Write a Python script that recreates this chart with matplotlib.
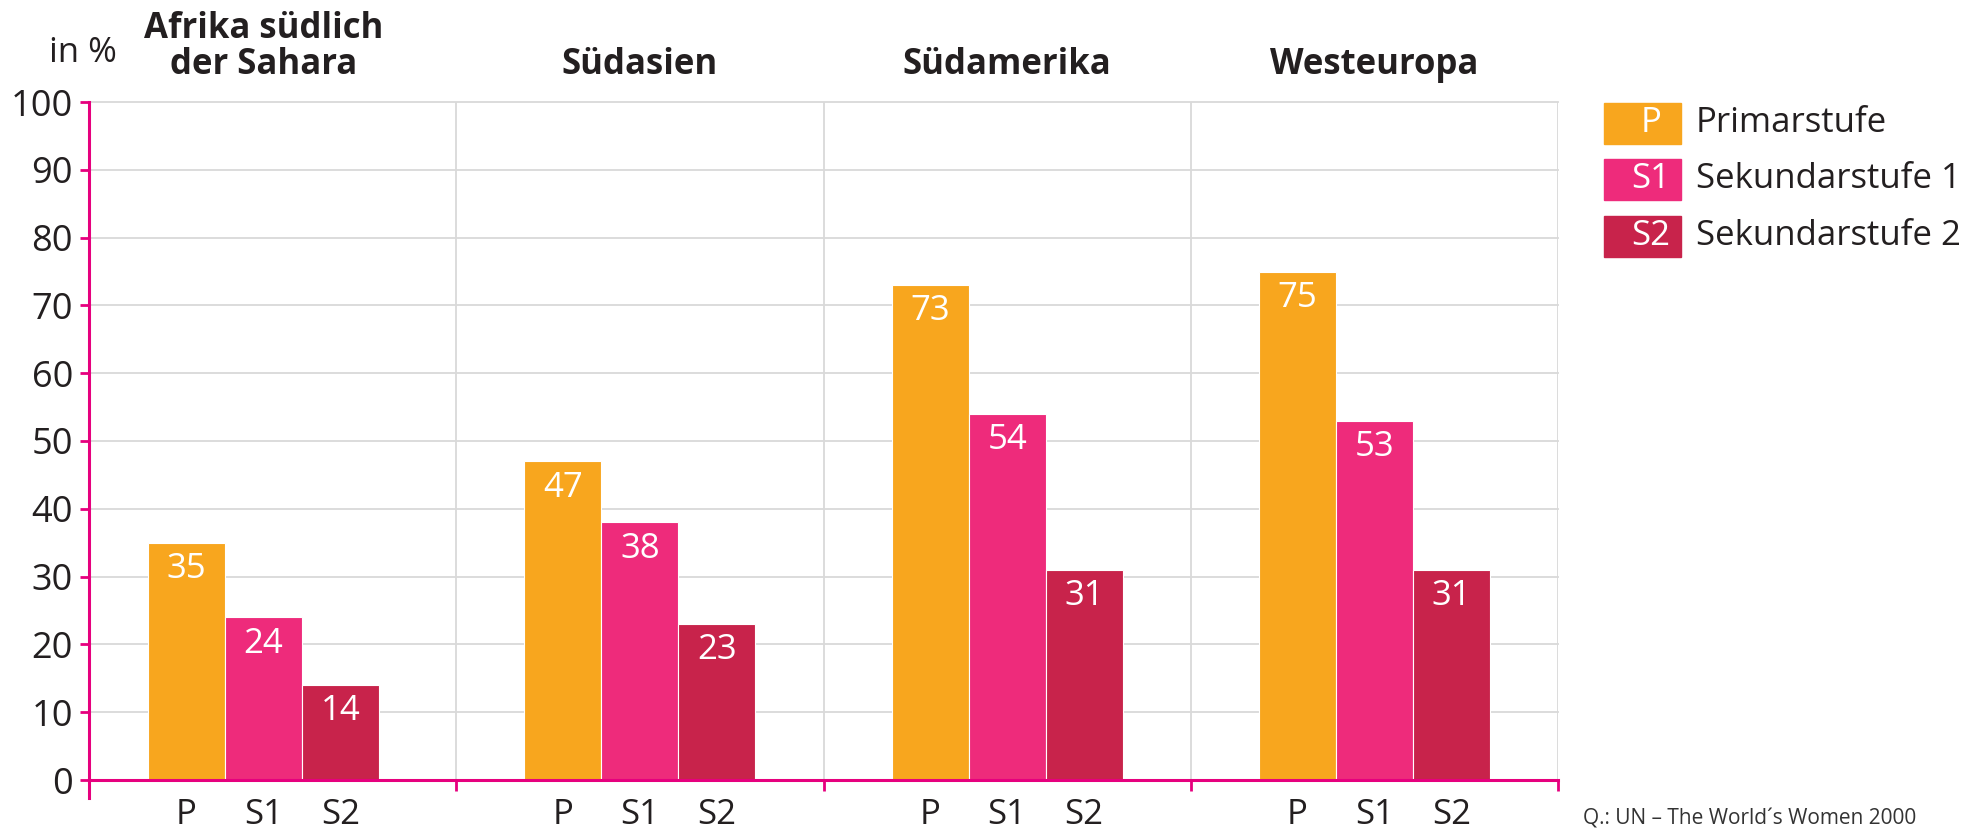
import numpy as np
import matplotlib
matplotlib.use("Agg")
import matplotlib.pyplot as plt
import matplotlib.patches as mpatches

plt.rcParams["font.family"] = ["Open Sans", "DejaVu Sans"]

# Daten
regionen = ["Afrika südlich\nder Sahara", "Südasien", "Südamerika", "Westeuropa"]
stufen_kurz = ["P", "S1", "S2"]
stufen_lang = ["Primarstufe", "Sekundarstufe 1", "Sekundarstufe 2"]
primar = [35, 47, 73, 75]
sek1 = [24, 38, 54, 53]
sek2 = [14, 23, 31, 31]
yticks = list(range(0, 101, 10))

FARBEN = ["#F8A61E", "#EE2B7B", "#C8234B"]
PINK = "#E6007E"
GRID = "#D9D9D9"
TEXT = "#231F20"

W, H = 1975, 832
fig = plt.figure(figsize=(W / 100, H / 100), dpi=100)

# Achse: links 89 px, rechts 1558 px, y=0 bei 780 px, y=100 bei 102 px
px_per_unit = (780 - 102) / 100
ymin = -18 / px_per_unit
bottom_px = 780 + 18
ax = fig.add_axes([89 / W, (H - bottom_px) / H, (1558 - 89) / W, (bottom_px - 102) / H])
ax.set_xlim(0, 4)
ax.set_ylim(ymin, 100)

werte = [primar, sek1, sek2]
bw = 77 / 367
centers = np.arange(len(regionen)) + 0.5
centers[0] -= 0.025  # Afrika-Gruppe leicht nach links versetzt

# Gitter
for y in yticks[1:]:
    ax.axhline(y, color=GRID, lw=1.3, zorder=0, clip_on=False)
ax.vlines([1, 2, 3, 4], 0, 100, color=GRID, lw=1.3, zorder=0)

for k, (vals, col) in enumerate(zip(werte, FARBEN)):
    xs = centers + (k - 1) * bw
    bars = ax.bar(xs, vals, width=bw, color=col, edgecolor="white", linewidth=0.8, zorder=2)
    for b, v in zip(bars, vals):
        ax.annotate(str(v), (b.get_x() + b.get_width() / 2, v), xytext=(0, -19),
                    textcoords="offset points", ha="center", va="center",
                    color="white", fontsize=25, zorder=3)

# Spines
for s in ["top", "right"]:
    ax.spines[s].set_visible(False)
ax.spines["left"].set_color(PINK)
ax.spines["left"].set_linewidth(2.2)
ax.spines["bottom"].set_color(PINK)
ax.spines["bottom"].set_linewidth(2.2)
ax.spines["bottom"].set_position(("data", 0))
ax.spines["bottom"].set_zorder(4)

ax.set_yticks(yticks)
ax.set_yticklabels([str(t) for t in yticks], fontsize=26, color=TEXT)
ax.tick_params(axis="y", colors=PINK, labelcolor=TEXT, length=6.5, width=2, pad=5)

# x: Beschriftung der Balken + Trennstriche
xpos = [c + (k - 1) * bw for c in centers for k in range(3)]
ax.set_xticks(xpos)
ax.set_xticklabels(stufen_kurz * len(regionen), fontsize=25, color=TEXT)
ax.tick_params(axis="x", which="major", length=0, pad=13)
ax.set_xticks([1, 2, 3, 4], minor=True)
ax.tick_params(axis="x", which="minor", colors=PINK, length=8, width=2)

# Gruppentitel
for c, r in zip(centers, regionen):
    ax.annotate(r, (c, 100), xytext=(0, 14), textcoords="offset points",
                ha="center", va="bottom", fontsize=25, fontweight="bold",
                color=TEXT, linespacing=1.0, annotation_clip=False)

fig.text(83 / W, 1 - 53 / H, "in %", fontsize=25, color=TEXT, ha="center", va="center")

# Legende
for i, (kurz, lang, col) in enumerate(zip(stufen_kurz, stufen_lang, FARBEN)):
    yc = 123 + i * 56.5
    fig.patches.append(mpatches.Rectangle((1604 / W, 1 - (yc + 20.5) / H), 77 / W, 41 / H,
                                          transform=fig.transFigure, color=col))
    fig.text(1651 / W, 1 - yc / H, kurz, color="white", fontsize=25, ha="center", va="center")
    fig.text(1696 / W, 1 - yc / H, lang, color=TEXT, fontsize=25, ha="left", va="center")

fig.text(1583 / W, 1 - 829 / H, "Q.: UN – The World´s Women 2000", color="#333333",
         fontsize=15, ha="left", va="bottom")

fig.savefig("out.png", dpi=100)
